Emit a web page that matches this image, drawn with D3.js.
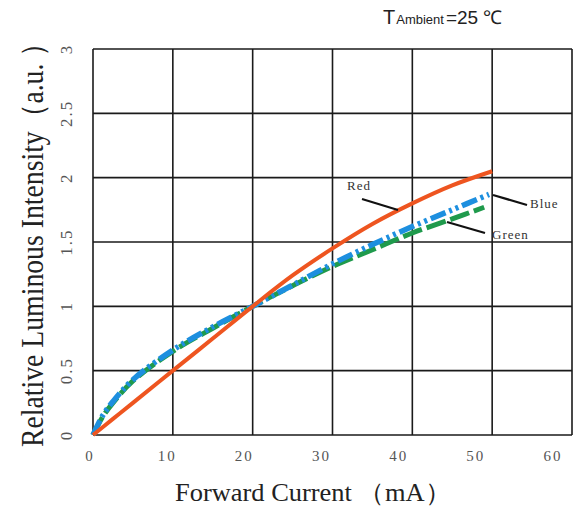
<!DOCTYPE html>
<html>
<head>
<meta charset="utf-8">
<script src="https://cdn.jsdelivr.net/npm/d3@7"></script>
<style>
  body { margin: 0; background: #fff; }
  svg { display: block; }
</style>
</head>
<body>
<div id="chart"></div>
<script>
// data
const xTicks = [0, 10, 20, 30, 40, 50, 60];
const yTicks = [0, 0.5, 1, 1.5, 2, 2.5, 3];
const yTickLabels = ["0", "0.5", "1", "1.5", "2", "2.5", "3"];

const redCurrent = [0, 2.5, 5, 10, 15, 20, 25, 30, 35, 40, 45, 50];
const redValues = [0, 0.125, 0.25, 0.5, 0.75, 1.0, 1.24, 1.45, 1.64, 1.8, 1.94, 2.05];
const blueCurrent = [0, 1.2, 2.5, 5, 10, 15, 20, 25, 30, 35, 40, 45, 49.6];
const blueValues = [0, 0.15, 0.26, 0.43, 0.66, 0.84, 1.0, 1.165, 1.33, 1.48, 1.62, 1.75, 1.87];
const greenCurrent = [0, 1.2, 2.5, 5, 10, 15, 20, 25, 30, 35, 40, 45, 49];
const greenValues = [0, 0.14, 0.25, 0.42, 0.65, 0.83, 1.0, 1.16, 1.31, 1.44, 1.57, 1.68, 1.77];

const width = 573, height = 511;

const svg = d3.select("#chart")
  .append("svg")
  .attr("width", width)
  .attr("height", height);

const x = d3.scaleLinear().domain([0, 60]).range([93, 572]);
const y = d3.scaleLinear().domain([0, 3]).range([435, 49]);
// tick labels in the original sit a bit left of the grid lines
const xLabel = d3.scaleLinear().domain([0, 60]).range([90, 553]);

// grid
svg.append("g")
  .selectAll("line")
  .data(xTicks)
  .join("line")
  .attr("x1", d => x(d)).attr("x2", d => x(d))
  .attr("y1", y(0)).attr("y2", y(3))
  .attr("stroke", "#1a1a1a")
  .attr("stroke-width", 1.6);

svg.append("g")
  .selectAll("line")
  .data(yTicks)
  .join("line")
  .attr("x1", x(0)).attr("x2", x(60))
  .attr("y1", d => y(d)).attr("y2", d => y(d))
  .attr("stroke", "#1a1a1a")
  .attr("stroke-width", 1.6);

// x tick labels
svg.append("g")
  .selectAll("text")
  .data(xTicks)
  .join("text")
  .attr("x", d => xLabel(d))
  .attr("y", 461)
  .attr("text-anchor", "middle")
  .style("font-family", "Liberation Serif, serif")
  .style("font-size", "15px")
  .style("letter-spacing", "2px")
  .style("fill", "#555")
  .text(d => d);

// y tick labels (rotated)
svg.append("g")
  .selectAll("text")
  .data(yTicks)
  .join("text")
  .attr("transform", d => `translate(72, ${y(d)}) rotate(-90)`)
  .attr("text-anchor", "middle")
  .style("font-family", "Liberation Serif, serif")
  .style("font-size", "17px")
  .style("letter-spacing", "2px")
  .style("fill", "#555")
  .text((d, i) => yTickLabels[i]);

// curves
const line = d3.line()
  .x(d => x(d[0]))
  .y(d => y(d[1]))
  .curve(d3.curveCatmullRom.alpha(0.5));

const series = [
  { cur: greenCurrent, val: greenValues, color: "#1f9a4c", w: 5, dash: "20,5" },
  { cur: blueCurrent, val: blueValues, color: "#1d8fdf", w: 5.5, dash: "16,4,3,4,3,4" },
  { cur: redCurrent, val: redValues, color: "#ee5520", w: 4, dash: null }
];

svg.append("g")
  .selectAll("path")
  .data(series)
  .join("path")
  .attr("d", s => line(s.cur.map((c, i) => [c, s.val[i]])))
  .attr("fill", "none")
  .attr("stroke", s => s.color)
  .attr("stroke-width", s => s.w)
  .attr("stroke-dasharray", s => s.dash);

// series labels with leader lines
const labels = [
  { text: "Red", tx: 347, ty: 190, l: [362, 199, 398, 210] },
  { text: "Blue", tx: 530, ty: 208, l: [493, 195, 527, 205] },
  { text: "Green", tx: 492, ty: 239, l: [447, 222, 485, 233] }
];

svg.append("g")
  .selectAll("line")
  .data(labels)
  .join("line")
  .attr("x1", d => d.l[0]).attr("y1", d => d.l[1])
  .attr("x2", d => d.l[2]).attr("y2", d => d.l[3])
  .attr("stroke", "#111")
  .attr("stroke-width", 2.2);

svg.append("g")
  .selectAll("text")
  .data(labels)
  .join("text")
  .attr("x", d => d.tx)
  .attr("y", d => d.ty)
  .style("font-family", "Liberation Serif, serif")
  .style("font-size", "13px")
  .style("letter-spacing", "1px")
  .style("fill", "#333")
  .text(d => d.text);

// ambient temperature note
const note = svg.append("text")
  .attr("x", 383)
  .attr("y", 24)
  .style("font-family", "Liberation Sans, Arial, sans-serif")
  .style("fill", "#222");
note.append("tspan").style("font-size", "20px").text("T");
note.append("tspan").style("font-size", "13px").attr("dx", 1).text("Ambient");
note.append("tspan").style("font-size", "19px").attr("dx", 2).text("=25 ℃");

// axis titles
svg.append("text")
  .attr("transform", "translate(43, 447) rotate(-90) scale(1, 1.15)")
  .attr("textLength", 418)
  .attr("lengthAdjust", "spacingAndGlyphs")
  .style("font-family", "Liberation Serif, serif")
  .style("font-size", "27px")
  .style("fill", "#222")
  .text("Relative Luminous Intensity（a.u. ）");

svg.append("text")
  .attr("x", 175)
  .attr("y", 501)
  .attr("textLength", 276)
  .attr("lengthAdjust", "spacingAndGlyphs")
  .style("font-family", "Liberation Serif, serif")
  .style("font-size", "25px")
  .style("fill", "#222")
  .text("Forward  Current （mA）");
</script>
</body>
</html>
